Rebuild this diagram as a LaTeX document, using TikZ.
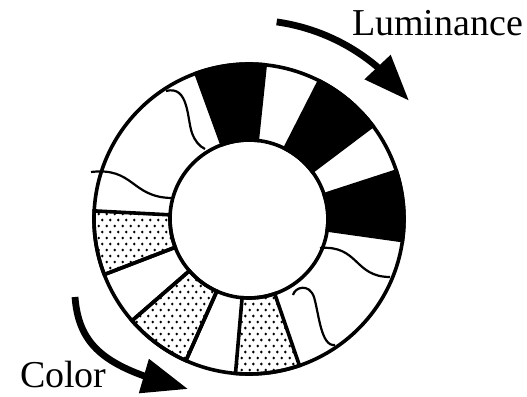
\documentclass[tikz,border=0pt]{standalone}
\usepackage{fontspec}
\setmainfont{Liberation Serif}
\usepackage{tikz}
\usetikzlibrary{arrows.meta,bending,patterns}

% staggered dots for the colour cells
\pgfdeclarepatternformonly{stipple}{\pgfpointorigin}{\pgfqpoint{3.75pt}{6pt}}{\pgfqpoint{3.75pt}{6pt}}{%
  \pgfpathcircle{\pgfqpoint{0.94pt}{1.5pt}}{0.75pt}%
  \pgfpathcircle{\pgfqpoint{2.81pt}{4.5pt}}{0.75pt}%
  \pgfusepath{fill}}

\begin{document}
\begin{tikzpicture}[x=0.5pt,y=0.5pt,
    rim/.style={line width=1.8pt},
    wave/.style={line width=1.1pt},
    turn/.style={line width=3.4pt,-{Triangle[length=23pt,width=17pt]}},
    lbl/.style={anchor=base west,font=\fontsize{19}{22}\selectfont}]
  \useasboundingbox (-249,-178) rectangle (278,219);

  % luminance cells
  \foreach \a/\b in {84/110,37/63,-8/18}
    \filldraw[rim,fill=black] (\a:155) arc[start angle=\a,end angle=\b,radius=155]
      -- (\b:79) arc[start angle=\b,end angle=\a,radius=79] -- cycle;

  % colour cells
  \foreach \a/\b in {-95/-71,-139/-114,177/201}
    \draw[rim,pattern=stipple] (\a:155) arc[start angle=\a,end angle=\b,radius=155]
      -- (\b:79) arc[start angle=\b,end angle=\a,radius=79] -- cycle;

  % white cells
  \foreach \a in {-114,201,221}
    \draw[rim] (\a:155) -- (\a:79);

  \draw[rim] (0,0) circle[radius=155];
  \draw[rim] (0,0) circle[radius=79];

  % wavy borders
  \draw[wave] (71,-29) .. controls (110,-26) and (105,-58) .. (141,-58);
  \draw[wave] (44,-76) .. controls (46,-68) and (60,-64) .. (65,-78)
    .. controls (70,-95) and (72,-128) .. (86,-126);
  \draw[wave] (-158,47) .. controls (-115,52) and (-118,22) .. (-78,21);
  \draw[wave] (-83,128) .. controls (-60,134) and (-62,100) .. (-57,86)
    .. controls (-54,78) and (-50,73) .. (-44,70);

  % arrows and labels
  \draw[turn] (82:199) arc[start angle=82,end angle=36.5,radius=199];
  \draw[turn] (-174,-78) .. controls (-170,-130) and (-140,-150) .. (-61,-170);
  \node[lbl] (lum) at (96,184) {Luminance};
  \node[lbl] (col) at (-236,-169) {Color};
\end{tikzpicture}
\end{document}
